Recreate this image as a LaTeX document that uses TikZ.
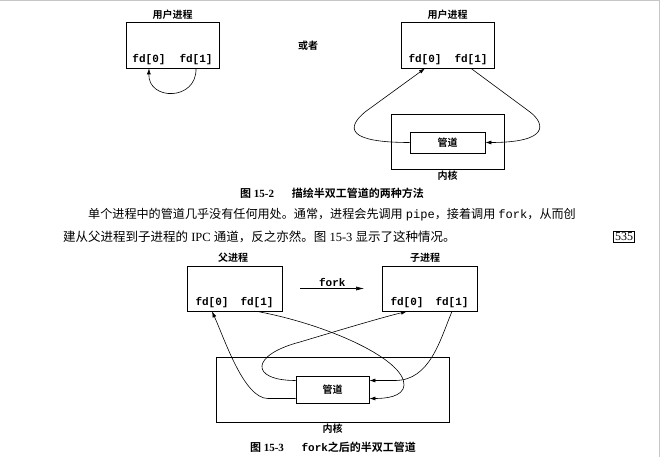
\documentclass[tikz,border=0pt]{standalone}
\usepackage{fontspec}
\setmainfont{Liberation Serif}
\setmonofont{Liberation Mono}
\newfontfamily\cjk{Noto Sans CJK SC}[BoldFont={Noto Sans CJK SC Bold}]
\usetikzlibrary{arrows.meta,calc,positioning}
\tikzset{
  proc/.style={draw, line width=0.8pt, minimum width=93pt, minimum height=46pt, inner sep=0pt},
  plabel/.style={font=\cjk\bfseries\fontsize{10}{12}\selectfont, inner sep=1pt},
  fdlab/.style={font=\ttfamily\bfseries\fontsize{11}{13}\selectfont, inner sep=1pt},
  pipebox/.style={draw, line width=0.8pt, inner sep=0pt, font=\cjk\bfseries\fontsize{10}{12}\selectfont},
  flow/.style={line width=0.6pt},
  flowto/.style={flow, -{Latex[length=6pt,width=4pt]}},
  capt/.style={font=\fontsize{11}{13}\selectfont, inner sep=0pt},
  para/.style={font=\fontsize{12.5}{15}\selectfont, inner sep=0pt},
}

\begin{document}
\begin{tikzpicture}[x=1pt,y=-1pt]
  %%%%% START %%%%%
  \useasboundingbox (0,0) rectangle (660,457);
  \draw[gray!45, line width=1pt] (0,1) -- (660,1);
  \draw[gray!45, line width=1pt] (659,0) -- (659,457);

  %%%%% FIG 15-2 %%%%%
  \node[proc] (userA) at (172.5,45) {};
  \node[plabel, above=1pt of userA] (userAlab) {用户进程};
  \node[fdlab, anchor=south] (a0) at (149,66) {fd[0]};
  \node[fdlab, anchor=south] (a1) at (196,66) {fd[1]};
  \draw[flowto] (a1.south |- userA.south) .. controls (197,101) and (148,101) .. (a0.south |- userA.south);

  \node[plabel] (or) at (308,46) {或者};

  \node[proc] (userB) at (447.5,45) {};
  \node[plabel, above=1pt of userB] (userBlab) {用户进程};
  \node[fdlab, anchor=south] (b0) at (425,66) {fd[0]};
  \node[fdlab, anchor=south] (b1) at (471,66) {fd[1]};
  \node[proc, minimum width=113pt, minimum height=55pt] (kernA) at (447.5,141.5) {};
  \node[plabel, below=0pt of kernA] (kernAlab) {内核};
  \node[pipebox, minimum width=75pt, minimum height=21pt] (pipeA) at (447.5,142.5) {管道};
  \draw[flowto] (pipeA.west) .. controls (347,142.5) and (346,128) .. (365,112) -- (b0.south |- userB.south);
  \draw[flowto] (b1.south |- userB.south) -- (530,112) .. controls (545,123.6) and (550,142.5) .. (pipeA.east);

  \node[capt] (capA) at (332,193) {{\cjk\bfseries 图} {\bfseries 15-2}\hspace{1.6em}{\cjk\bfseries 描绘半双工管道的两种方法}};

  %%%%% TEXT %%%%%
  \node[para, anchor=west, font=\fontsize{12.1}{15}\selectfont] (line1) at (88,215) {{\cjk 单个进程中的管道几乎没有任何用处。通常，进程会先调用} {\ttfamily pipe}{\cjk ，接着调用} {\ttfamily fork}{\cjk ，从而创}};
  \node[para, anchor=west] (line2) at (63,237) {{\cjk 建从父进程到子进程的} IPC {\cjk 通道，反之亦然。图} 15-3 {\cjk 显示了这种情况。}};
  \node[draw, line width=0.6pt, inner sep=1.5pt, font=\fontsize{12}{14}\selectfont] (page) at (624,237) {535};

  %%%%% FIG 15-3 %%%%%
  \node[proc, minimum width=95pt, minimum height=45pt] (parent) at (234.5,288.5) {};
  \node[plabel] (parentlab) at (233,258) {父进程};
  \node[fdlab, anchor=south] (p0) at (212,309) {fd[0]};
  \node[fdlab, anchor=south] (p1) at (257,309) {fd[1]};

  \node[proc, minimum width=95pt, minimum height=45pt] (child) at (430,288.5) {};
  \node[plabel] (childlab) at (425,258) {子进程};
  \node[fdlab, anchor=south] (c0) at (407,309) {fd[0]};
  \node[fdlab, anchor=south] (c1) at (452,309) {fd[1]};

  \draw[flow, -{Latex[length=8pt,width=4pt]}] ([xshift=18pt]parent.east) -- node[fdlab, above=1pt] (forklab) {fork} ([xshift=-18pt]child.west);

  \node[proc, minimum width=233pt, minimum height=65pt] (kernB) at (332.5,389.5) {};
  \node[plabel, below=0pt of kernB] (kernBlab) {内核};
  \node[pipebox, minimum width=73pt, minimum height=27pt] (pipeB) at (332.5,389.5) {管道};

  \draw[flowto] (p1.south |- parent.south) .. controls (330,325) and (405,360) .. (404,385) .. controls (403.5,397) and (385,398.5) .. ($(pipeB.east)+(0,9)$);
  \draw[flowto] (c1.south |- child.south) .. controls (440,340) and (430,380.5) .. (395,380.5) -- ($(pipeB.east)+(0,-9)$);
  \draw[flowto] ($(pipeB.west)+(0,-9)$) .. controls (250,380.5) and (250,355) .. (300,342) .. controls (340,330) and (380,318) .. (c0.south |- child.south);
  \draw[flowto] ($(pipeB.west)+(0,9)$) -- (268,398.5) .. controls (244,398.5) and (225,340) .. (p0.south |- parent.south);

  \node[capt] (capB) at (333,447) {{\cjk\bfseries 图} {\bfseries 15-3}\hspace{1.6em}{\ttfamily\bfseries fork}{\cjk\bfseries 之后的半双工管道}};
  %%%%% END %%%%%
\end{tikzpicture}
\end{document}
